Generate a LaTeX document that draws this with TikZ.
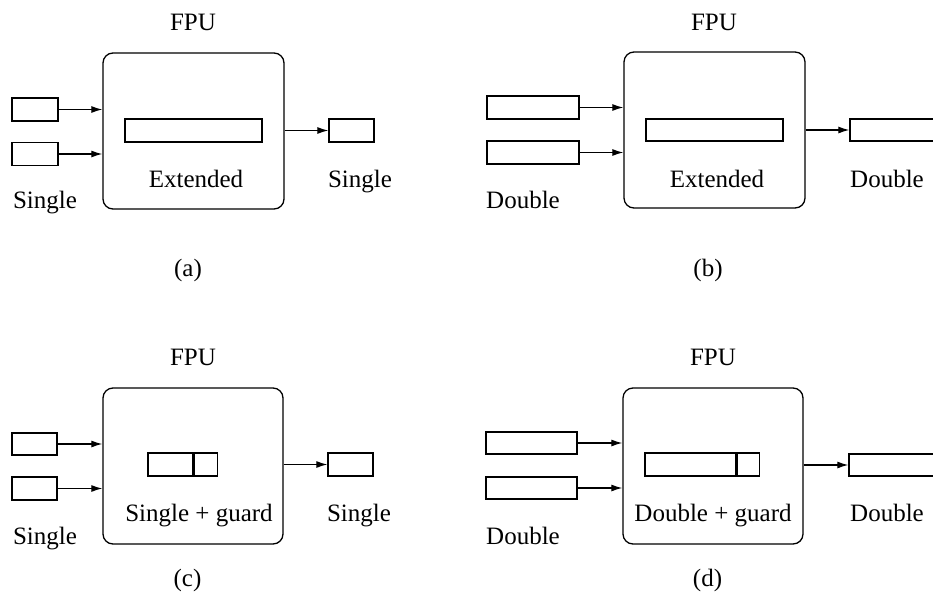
\documentclass[tikz,border=0pt]{standalone}
\usepackage{fontspec}
\setmainfont{Liberation Serif}
\usetikzlibrary{arrows.meta}
\begin{document}
\begin{tikzpicture}[x=1pt,y=-1pt,
  reg/.style={draw,line width=1.3pt,inner sep=0,minimum height=23},
  fpu/.style={draw,line width=1.3pt,rounded corners=10pt,inner sep=0,minimum width=181,minimum height=156},
  arr/.style={line width=1.2pt,-{Latex[length=11pt,width=7pt]}},
  lbl/.style={anchor=base,inner sep=0,font=\fontsize{25}{30}\selectfont}]
\useasboundingbox (0,0) rectangle (933,594);
\clip (0,0) rectangle (933,594);
% ---------- (a)
\node[fpu] (fpuA) at (193.5,131) {};
\node[reg,minimum width=46] (inA1) at (35,109.5) {};
\node[reg,minimum width=46] (inA2) at (35,154) {};
\node[reg,minimum width=137] (barA) at (193.5,130.5) {};
\node[reg,minimum width=45] (outA) at (351.5,130.5) {};
\draw[arr] (inA1.east) -- (inA1.east -| fpuA.west);
\draw[arr] (inA2.east) -- (inA2.east -| fpuA.west);
\draw[arr] (outA.west -| fpuA.east) -- (outA.west);
\node[lbl] (tA) at (193,31) {FPU};
\node[lbl] (eA) at (196,187) {Extended};
\node[lbl] (oA) at (360,187) {Single};
\node[lbl] (iA) at (45,208) {Single};
\node[lbl] (cA) at (188,276) {(a)};
% ---------- (b)
\node[fpu] (fpuB) at (714.5,130) {};
\node[reg,minimum width=92] (inB1) at (533,107.5) {};
\node[reg,minimum width=92] (inB2) at (533,152.5) {};
\node[reg,minimum width=137,minimum height=22] (barB) at (714.5,130) {};
\node[reg,minimum width=92,minimum height=22] (outB) at (896,130) {};
\draw[arr] (inB1.east) -- (inB1.east -| fpuB.west);
\draw[arr] (inB2.east) -- (inB2.east -| fpuB.west);
\draw[arr] (outB.west -| fpuB.east) -- (outB.west);
\node[lbl] (tB) at (714,31) {FPU};
\node[lbl] (eB) at (717,187) {Extended};
\node[lbl] (oB) at (887,187) {Double};
\node[lbl] (iB) at (523,208) {Double};
\node[lbl] (cB) at (708,276) {(b)};
% ---------- (c)
\node[fpu,minimum width=180] (fpuC) at (193,466) {};
\node[reg,minimum width=45,minimum height=22] (inC1) at (34.5,444) {};
\node[reg,minimum width=45] (inC2) at (34.5,488.5) {};
\node[reg,minimum width=45] (sglC) at (170.5,464.5) {};
\node[reg,minimum width=23,anchor=west] (grdC) at (sglC.east) {};
\node[reg,minimum width=45] (outC) at (350.5,464.5) {};
\draw[arr] (inC1.east) -- (inC1.east -| fpuC.west);
\draw[arr] (inC2.east) -- (inC2.east -| fpuC.west);
\draw[arr] (outC.west -| fpuC.east) -- (outC.west);
\node[lbl] (tC) at (193,365) {FPU};
\node[lbl] (eC) at (199,521) {Single + guard};
\node[lbl] (oC) at (359,521) {Single};
\node[lbl] (iC) at (45,544) {Single};
\node[lbl] (cC) at (187.5,586) {(c)};
% ---------- (d)
\node[fpu,minimum width=180] (fpuD) at (713,466) {};
\node[reg,minimum width=91,minimum height=22] (inD1) at (531.5,443) {};
\node[reg,minimum width=91,minimum height=22] (inD2) at (531.5,488) {};
\node[reg,minimum width=91] (dblD) at (690.5,464.5) {};
\node[reg,minimum width=22,anchor=west] (grdD) at (dblD.east) {};
\node[reg,minimum width=92,minimum height=22] (outD) at (895,465) {};
\draw[arr] (inD1.east) -- (inD1.east -| fpuD.west);
\draw[arr] (inD2.east) -- (inD2.east -| fpuD.west);
\draw[arr] (outD.west -| fpuD.east) -- (outD.west);
\node[lbl] (tD) at (713,365) {FPU};
\node[lbl] (eD) at (713,521) {Double + guard};
\node[lbl] (oD) at (887,521) {Double};
\node[lbl] (iD) at (523,544) {Double};
\node[lbl] (cD) at (707.5,586) {(d)};
\end{tikzpicture}
\end{document}
